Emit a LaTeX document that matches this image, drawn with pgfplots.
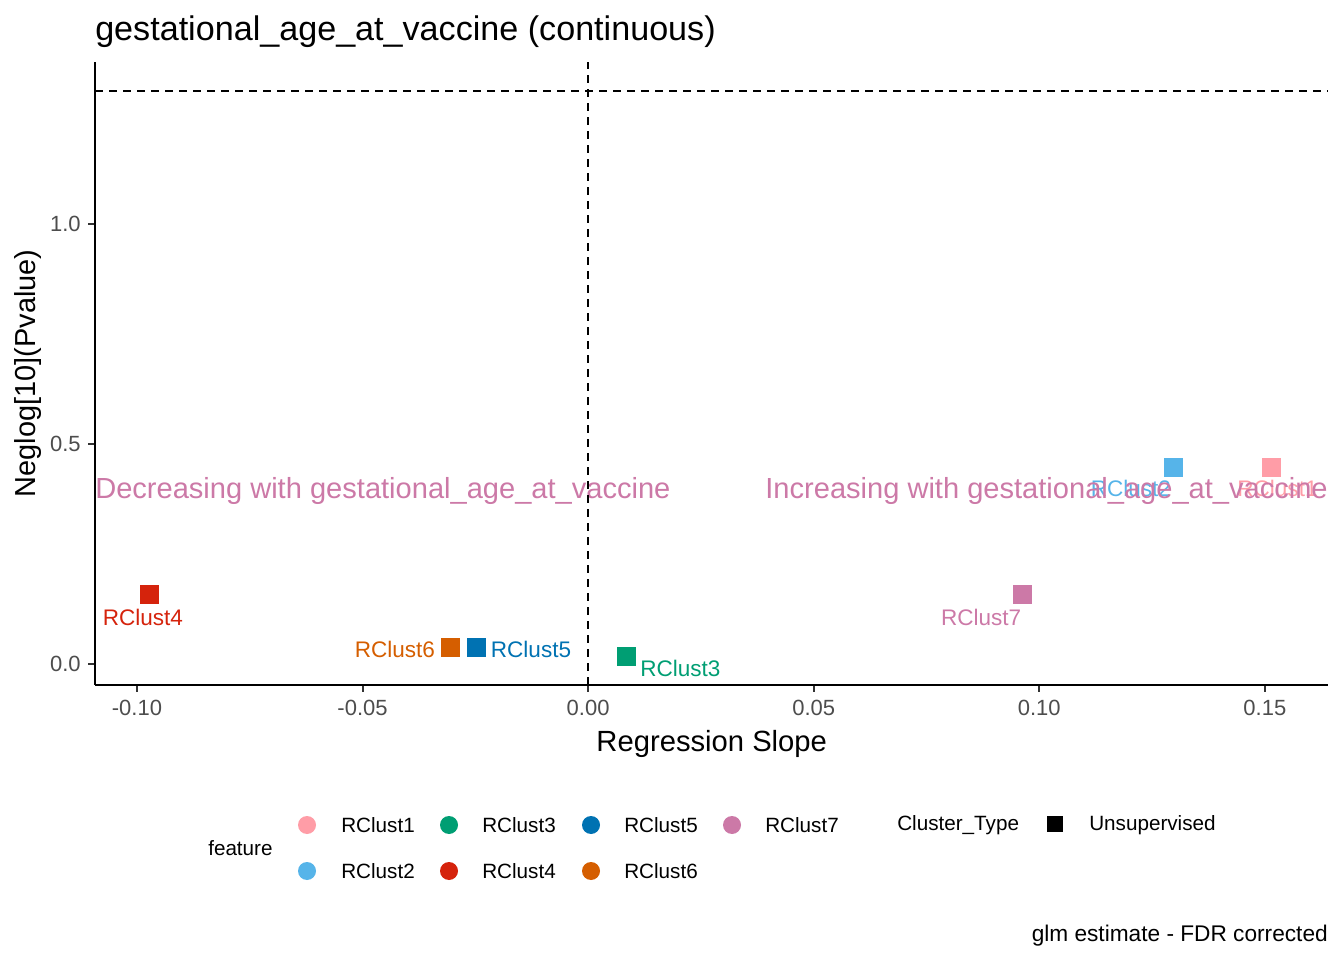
\documentclass[border=0pt]{standalone}
\usepackage{fontspec}
\setmainfont{Liberation Sans}
\usepackage{pgfplots}
\pgfplotsset{compat=1.18}
\definecolor{cA}{HTML}{FF9DA7}
\definecolor{cB}{HTML}{56B4E9}
\definecolor{cC}{HTML}{009E73}
\definecolor{cD}{HTML}{D5230C}
\definecolor{cE}{HTML}{0072B2}
\definecolor{cF}{HTML}{D55E00}
\definecolor{cG}{HTML}{CC79A7}
\definecolor{tickgray}{HTML}{333333}
\definecolor{labgray}{HTML}{4D4D4D}
\begin{document}
\begin{tikzpicture}[x=1pt,y=1pt]
\path[use as bounding box] (0,0) rectangle (1008,720);
\begin{axis}[
  at={(71.25pt,206.25pt)}, anchor=south west,
  scale only axis, width=924.75pt, height=467.25pt,
  xmin=-0.1093, xmax=0.164, ymin=-0.0477, ymax=1.368,
  axis x line*=bottom, axis y line*=left,
  axis line style={line width=1.5pt, black, -},
  tick align=outside, major tick length=5.25pt,
  tick style={line width=1.5pt, color=tickgray},
  xtick={-0.1,-0.05,0,0.05,0.1,0.15},
  xticklabels={-0.10,-0.05,0.00,0.05,0.10,0.15},
  ytick={0,0.5,1},
  yticklabels={0.0,0.5,1.0},
  /pgf/number format/assume math mode=true,
  ticklabel style={font=\fontsize{16.5}{18}\selectfont, text=labgray, inner sep=0pt},
  xticklabel style={anchor=base, yshift=-18pt},
  yticklabel style={anchor=east, xshift=-5.25pt},
  clip=false,
  mark size=6.75pt,
]
\addplot[only marks, mark=square*, color=cA] coordinates {(0.1514,0.448)};
\addplot[only marks, mark=square*, color=cB] coordinates {(0.1297,0.448)};
\addplot[only marks, mark=square*, color=cC] coordinates {(0.0084,0.0166)};
\addplot[only marks, mark=square*, color=cD] coordinates {(-0.0973,0.159)};
\addplot[only marks, mark=square*, color=cE] coordinates {(-0.0248,0.0386)};
\addplot[only marks, mark=square*, color=cF] coordinates {(-0.0306,0.0386)};
\addplot[only marks, mark=square*, color=cG] coordinates {(0.0962,0.159)};
% point labels
\begin{scope}[every node/.style={inner sep=0pt, font=\fontsize{16.9}{19}\selectfont}]
\node[text=cD, anchor=base] at (axis cs:-0.0987,0.0886) {RClust4};
\node[text=cF, anchor=base east] at (axis cs:-0.0339,0.0159) {RClust6};
\node[text=cE, anchor=base west] at (axis cs:-0.0216,0.0159) {RClust5};
\node[text=cC, anchor=base west] at (axis cs:0.0115,-0.0273) {RClust3};
\node[text=cG, anchor=base] at (axis cs:0.0871,0.0886) {RClust7};
\node[text=cB, anchor=base] at (axis cs:0.1203,0.380) {RClust2};
\node[text=cA, anchor=base] at (axis cs:0.1528,0.380) {RClust1};
\end{scope}
% annotations
\begin{scope}[every node/.style={inner sep=0pt, font=\fontsize{21.8}{24}\selectfont, text=cG}]
\node[anchor=base west] at (axis cs:-0.1093,0.377) {Decreasing with gestational\_age\_at\_vaccine};
\node[anchor=base east] at (axis cs:0.164,0.377) {Increasing with gestational\_age\_at\_vaccine};
\end{scope}
\draw[line width=1.5pt, dash pattern=on 6pt off 4.5pt] (axis cs:0,-0.0477) -- (axis cs:0,1.368);
\draw[line width=1.5pt, dash pattern=on 6pt off 4.5pt] (axis cs:-0.1093,1.30103) -- (axis cs:0.164,1.30103);
\end{axis}
% title and axis titles
\node[anchor=base west, inner sep=0pt, font=\fontsize{25.6}{29}\selectfont] at (71.25,689.25) {gestational\_age\_at\_vaccine (continuous)};
\node[anchor=base, inner sep=0pt, font=\fontsize{21.9}{25}\selectfont] at (533.8,156.2) {Regression Slope};
\node[anchor=base, rotate=90, inner sep=0pt, font=\fontsize{21.7}{25}\selectfont] at (27,439.9) {Neglog[10](Pvalue)};
% legend
\begin{scope}[every node/.style={inner sep=0pt, anchor=west, font=\fontsize{15.5}{18}\selectfont}]
\node at (156,84) {feature};
\fill[cA] (230.25,101.25) circle (6.75);
\fill[cB] (230.25,66.75) circle (6.75);
\fill[cC] (336.75,101.25) circle (6.75);
\fill[cD] (336.75,66.75) circle (6.75);
\fill[cE] (443.25,101.25) circle (6.75);
\fill[cF] (443.25,66.75) circle (6.75);
\fill[cG] (549,101.25) circle (6.75);
\node at (255.75,101.25) {RClust1};
\node at (255.75,66.75) {RClust2};
\node at (361.5,101.25) {RClust3};
\node at (361.5,66.75) {RClust4};
\node at (468,101.25) {RClust5};
\node at (468,66.75) {RClust6};
\node at (573.75,101.25) {RClust7};
\node at (672.75,101.25) {Cluster\_Type};
\fill[black] (785,95.75) rectangle (797.5,108.25);
\node at (816.75,101.25) {Unsupervised};
\end{scope}
\node[anchor=base east, inner sep=0pt, font=\fontsize{17}{19}\selectfont] at (996,13.7) {glm estimate - FDR corrected};
\end{tikzpicture}
\end{document}
